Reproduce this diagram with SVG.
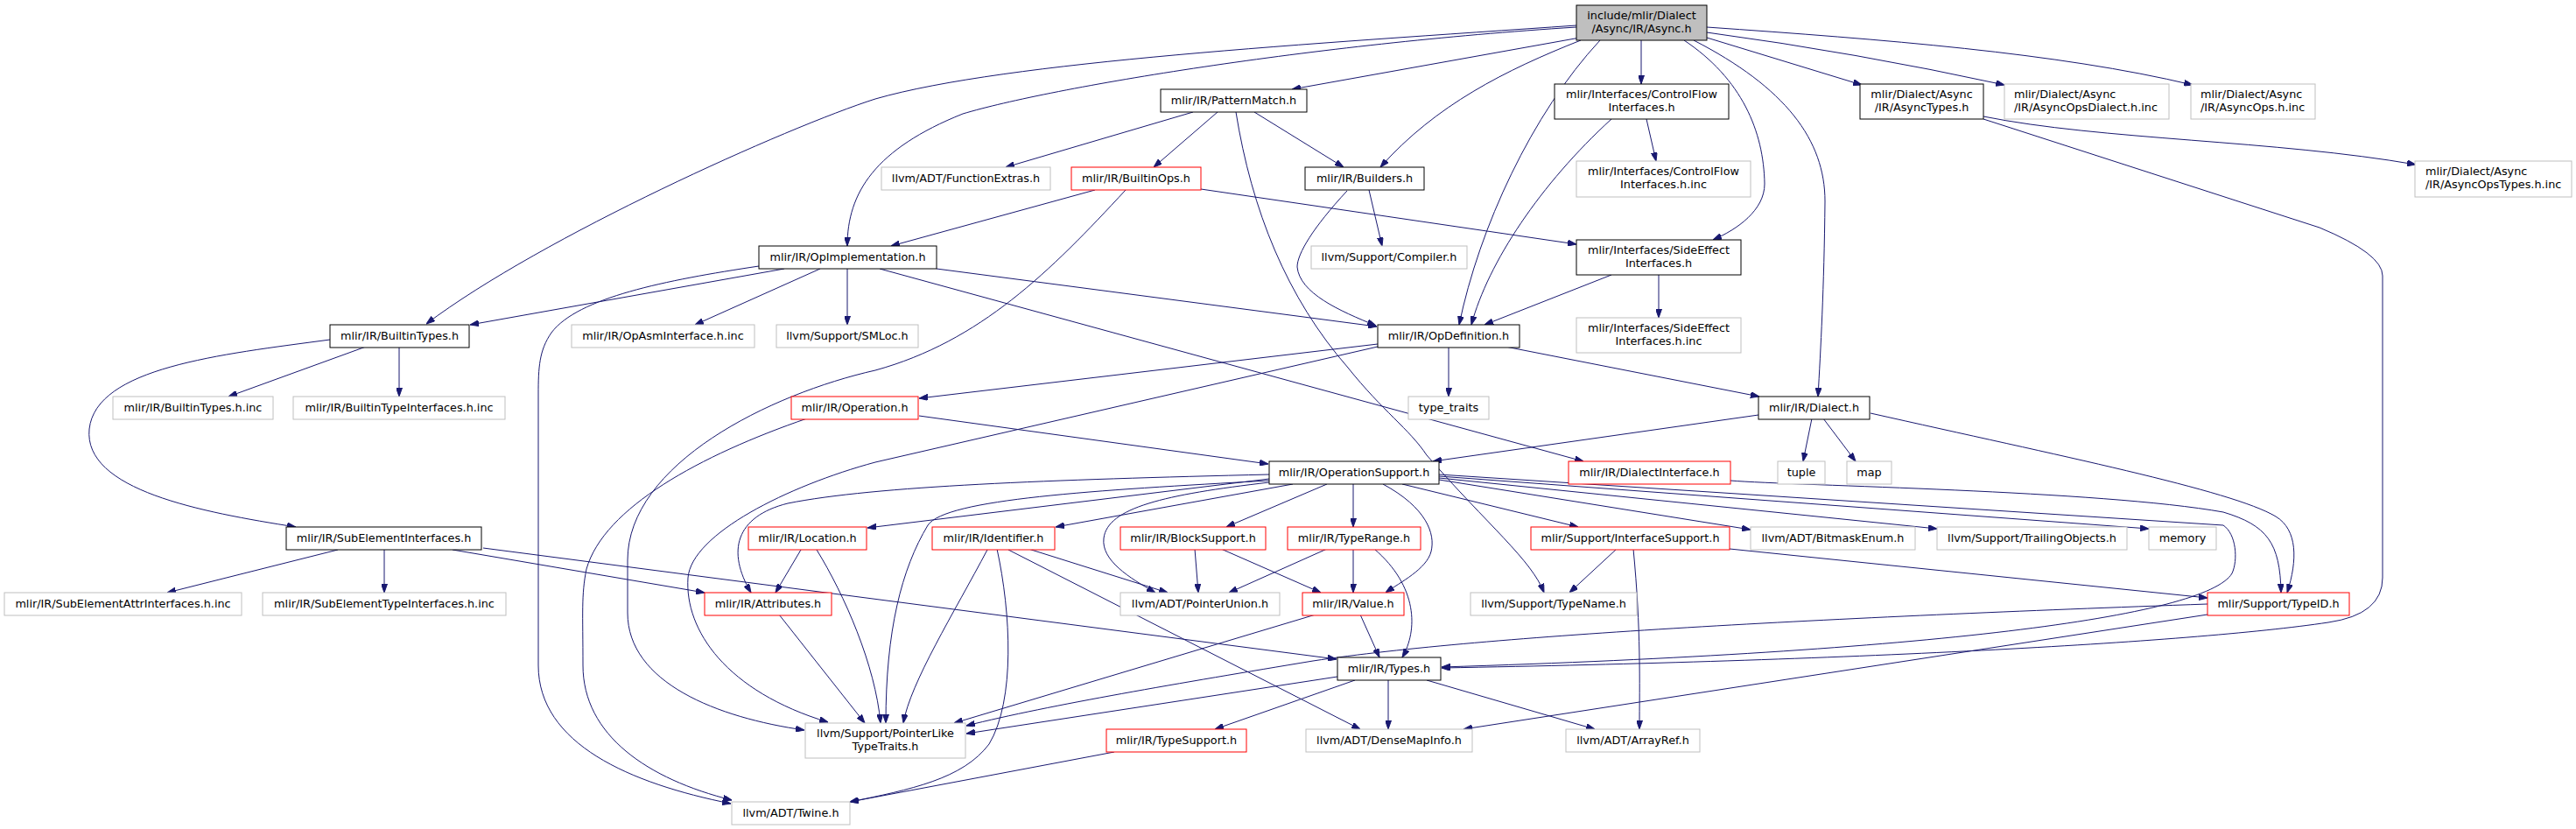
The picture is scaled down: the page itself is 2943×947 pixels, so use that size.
<svg xmlns="http://www.w3.org/2000/svg" width="2943" height="947" viewBox="0 0 2943 947">
<style>
text{font-family:"DejaVu Sans","Liberation Sans",sans-serif;font-size:12.8px;fill:#000;text-anchor:middle}
text.l{text-anchor:start}
rect{fill:#fff;stroke-width:1}
.k rect{stroke:#000}
.g rect{stroke:#bfbfbf}
.r rect{stroke:#ff0000}
.root rect{fill:#bfbfbf;stroke:#000}
#edges path{fill:none;stroke:#191970;stroke-width:1;marker-end:url(#a)}
</style>
<defs>
<marker id="a" viewBox="0 0 10 7" refX="10" refY="3.5" markerWidth="10" markerHeight="7" orient="auto" markerUnits="userSpaceOnUse"><path d="M0,0L10,3.5L0,7z" fill="#191970" stroke="#191970"/></marker>
</defs>
<rect x="0" y="0" width="2943" height="947" style="fill:#fff;stroke:none"/>
<g id="edges">
<path d="M1801,29 C1500,50 1150,70 1000,113 C900,145 620,270 487,370"/>
<path d="M1801,31 C1500,50 1200,100 1100,130 C1000,170 968,220 968,281"/>
<path d="M1805,43 L1476,102"/>
<path d="M1806,46 C1720,80 1640,120 1577,191"/>
<path d="M1828,46 C1750,130 1690,260 1667,371"/>
<path d="M1875,46 L1875,96"/>
<path d="M1924,46 C1990,90 2015,150 2016,210 C2016,240 1985,262 1957,274"/>
<path d="M1935,46 C2040,100 2085,160 2085,230 C2084,330 2080,400 2077,453"/>
<path d="M1950,43 L2127,97"/>
<path d="M1950,37 Q2120,60 2290,97"/>
<path d="M1950,31 C2150,45 2350,60 2505,97"/>
<path d="M2266,133 C2400,160 2600,160 2760,188"/>
<path d="M2266,136 L2650,260 Q2722,290 2722,315 L2722,660 Q2722,702 2660,711 C2500,735 2100,755 1647,763"/>
<path d="M1363,128 L1149,191"/>
<path d="M1391,128 L1318,191"/>
<path d="M1433,128 L1535,191"/>
<path d="M1412,128 C1430,240 1470,340 1540,420 C1580,470 1610,490 1630,520 C1700,600 1750,640 1764,677"/>
<path d="M1251,217 L1018,281"/>
<path d="M1372,216 L1801,279"/>
<path d="M1286,217 C1200,310 1120,390 1000,423 C880,450 717,530 717,640 L717,700 C717,780 820,820 919,834"/>
<path d="M896,307 L537,371"/>
<path d="M937,307 L794,371"/>
<path d="M968,307 L968,371"/>
<path d="M1070,307 L1573,373"/>
<path d="M1005,307 L1809,527"/>
<path d="M867,304 C760,320 660,340 630,380 C616,400 615,420 615,450 L615,760 C615,850 720,895 835,918"/>
<path d="M418,396 L261,453"/>
<path d="M456,396 L456,453"/>
<path d="M377,388 C250,405 110,420 102,490 C95,560 230,585 338,602"/>
<path d="M386,628 L191,677"/>
<path d="M439,628 L439,677"/>
<path d="M517,628 L805,677"/>
<path d="M552,626 L1527,753"/>
<path d="M1574,393 L1050,455"/>
<path d="M1574,396 L1000,528 C900,555 790,610 786,660 C782,720 830,790 946,825"/>
<path d="M1655,396 L1655,453"/>
<path d="M1720,396 L2010,453"/>
<path d="M1050,475 L1449,530"/>
<path d="M922,478 C800,520 690,580 670,650 C664,680 666,700 666,760 C666,840 740,890 836,914"/>
<path d="M2009,474 L1637,527"/>
<path d="M2070,478 L2060,527"/>
<path d="M2083,478 L2120,527"/>
<path d="M2137,472 C2350,520 2550,560 2600,590 C2625,605 2625,640 2613,677"/>
<path d="M1977,549 C2050,555 2400,560 2540,585 C2590,600 2605,620 2606,677"/>
<path d="M1450,547 L991,603"/>
<path d="M1450,542 C1200,548 1000,555 900,575 C840,590 830,630 858,677"/>
<path d="M1450,549 C1250,560 1080,570 1060,600 C1030,650 1012,720 1012,826"/>
<path d="M1450,551 C1330,565 1265,580 1261,615 C1258,640 1290,660 1320,677"/>
<path d="M1477,553 L1206,602"/>
<path d="M1516,553 L1401,602"/>
<path d="M1546,553 L1546,602"/>
<path d="M1580,553 C1630,580 1640,610 1635,630 C1630,650 1600,665 1583,677"/>
<path d="M1602,553 L1803,602"/>
<path d="M1644,548 L2000,605"/>
<path d="M1644,546 L2213,604"/>
<path d="M1644,544 L2455,604"/>
<path d="M1644,542 L2540,600 C2555,610 2557,640 2550,655 C2520,705 2200,745 1647,762"/>
<path d="M915,628 L886,677"/>
<path d="M933,628 C965,680 1000,760 1006,826"/>
<path d="M890,702 L988,826"/>
<path d="M1128,628 C1090,700 1040,780 1032,826"/>
<path d="M1139,627 C1155,700 1160,800 1130,850 C1100,890 1040,902 971,916"/>
<path d="M1152,628 L1554,833"/>
<path d="M1175,627 L1334,677"/>
<path d="M1365,627 L1369,677"/>
<path d="M1395,627 L1509,677"/>
<path d="M1516,627 L1404,677"/>
<path d="M1546,627 L1546,677"/>
<path d="M1570,627 C1620,670 1620,720 1602,751"/>
<path d="M1847,627 L1793,677"/>
<path d="M1866,627 C1875,720 1873,780 1873,833"/>
<path d="M1976,627 L2522,683"/>
<path d="M1503,702 L1090,826"/>
<path d="M1554,702 L1576,751"/>
<path d="M1528,773 L1104,838"/>
<path d="M1548,777 L1388,833"/>
<path d="M1586,777 L1586,833"/>
<path d="M1630,777 L1822,833"/>
<path d="M2522,690 C2100,705 1700,725 1500,755 C1350,780 1200,805 1104,829"/>
<path d="M2522,702 L1672,833"/>
<path d="M1273,859 L971,916"/>
<path d="M1564,217 L1579,281"/>
<path d="M1539,218 C1500,260 1482,290 1482,305 C1485,335 1530,355 1572,372"/>
<path d="M1881,136 L1892,184"/>
<path d="M1841,136 C1760,210 1700,300 1681,371"/>
<path d="M1895,314 L1895,363"/>
<path d="M1841,314 L1696,371"/>
</g>
<g id="root" class="root"><rect x="1801" y="6" width="149" height="40"/><text x="1875.5" y="21.5">include/mlir/Dialect</text><text x="1875.5" y="36.5">/Async/IR/Async.h</text></g>
<g id="patternmatch" class="k"><rect x="1326" y="102" width="167" height="26"/><text x="1409.5" y="119">mlir/IR/PatternMatch.h</text></g>
<g id="cfi" class="k"><rect x="1776" y="96" width="199" height="40"/><text x="1875.5" y="111.5">mlir/Interfaces/ControlFlow</text><text x="1875.5" y="126.5">Interfaces.h</text></g>
<g id="asynctypes" class="k"><rect x="2125" y="96" width="141" height="40"/><text x="2195.5" y="111.5">mlir/Dialect/Async</text><text x="2195.5" y="126.5">/IR/AsyncTypes.h</text></g>
<g id="asyncopsdialect" class="g"><rect x="2290" y="96" width="188" height="40"/><text class="l" x="2301" y="111.5">mlir/Dialect/Async</text><text class="l" x="2301" y="126.5">/IR/AsyncOpsDialect.h.inc</text></g>
<g id="asyncops" class="g"><rect x="2503" y="96" width="142" height="40"/><text class="l" x="2514" y="111.5">mlir/Dialect/Async</text><text class="l" x="2514" y="126.5">/IR/AsyncOps.h.inc</text></g>
<g id="functionextras" class="g"><rect x="1007" y="191" width="193" height="26"/><text x="1103.5" y="208">llvm/ADT/FunctionExtras.h</text></g>
<g id="builtinops" class="r"><rect x="1224" y="191" width="148" height="26"/><text x="1298" y="208">mlir/IR/BuiltinOps.h</text></g>
<g id="builders" class="k"><rect x="1491" y="191" width="136" height="26"/><text x="1559" y="208">mlir/IR/Builders.h</text></g>
<g id="cfiinc" class="g"><rect x="1801" y="184" width="199" height="41"/><text x="1900.5" y="199.5">mlir/Interfaces/ControlFlow</text><text x="1900.5" y="214.5">Interfaces.h.inc</text></g>
<g id="asyncopstypes" class="g"><rect x="2759" y="184" width="179" height="41"/><text class="l" x="2771" y="199.5">mlir/Dialect/Async</text><text class="l" x="2771" y="214.5">/IR/AsyncOpsTypes.h.inc</text></g>
<g id="opimpl" class="k"><rect x="867" y="281" width="203" height="26"/><text x="968.5" y="298">mlir/IR/OpImplementation.h</text></g>
<g id="compiler" class="g"><rect x="1498" y="281" width="178" height="26"/><text x="1587" y="298">llvm/Support/Compiler.h</text></g>
<g id="sideeffect" class="k"><rect x="1801" y="274" width="188" height="40"/><text x="1895" y="289.5">mlir/Interfaces/SideEffect</text><text x="1895" y="304.5">Interfaces.h</text></g>
<g id="sideeffectinc" class="g"><rect x="1801" y="363" width="188" height="40"/><text x="1895" y="378.5">mlir/Interfaces/SideEffect</text><text x="1895" y="393.5">Interfaces.h.inc</text></g>
<g id="builtintypes" class="k"><rect x="377" y="371" width="159" height="26"/><text x="456.5" y="388">mlir/IR/BuiltinTypes.h</text></g>
<g id="opasm" class="g"><rect x="653" y="371" width="209" height="26"/><text x="757.5" y="388">mlir/IR/OpAsmInterface.h.inc</text></g>
<g id="smloc" class="g"><rect x="887" y="371" width="162" height="26"/><text x="968" y="388">llvm/Support/SMLoc.h</text></g>
<g id="opdef" class="k"><rect x="1574" y="371" width="162" height="26"/><text x="1655" y="388">mlir/IR/OpDefinition.h</text></g>
<g id="builtintypesinc" class="g"><rect x="129" y="453" width="183" height="26"/><text x="220.5" y="470">mlir/IR/BuiltinTypes.h.inc</text></g>
<g id="builtintypeifinc" class="g"><rect x="335" y="453" width="242" height="26"/><text x="456" y="470">mlir/IR/BuiltinTypeInterfaces.h.inc</text></g>
<g id="operation" class="r"><rect x="904" y="453" width="145" height="26"/><text x="976.5" y="470">mlir/IR/Operation.h</text></g>
<g id="typetraits" class="g"><rect x="1609" y="453" width="92" height="26"/><text x="1655" y="470">type_traits</text></g>
<g id="dialect" class="k"><rect x="2009" y="453" width="127" height="26"/><text x="2072.5" y="470">mlir/IR/Dialect.h</text></g>
<g id="opsupport" class="k"><rect x="1450" y="527" width="194" height="26"/><text x="1547" y="544">mlir/IR/OperationSupport.h</text></g>
<g id="dialectif" class="r"><rect x="1792" y="527" width="185" height="26"/><text x="1884.5" y="544">mlir/IR/DialectInterface.h</text></g>
<g id="tuple" class="g"><rect x="2031" y="527" width="54" height="26"/><text x="2058" y="544">tuple</text></g>
<g id="map" class="g"><rect x="2110" y="527" width="51" height="26"/><text x="2135.5" y="544">map</text></g>
<g id="subelem" class="k"><rect x="327" y="602" width="223" height="26"/><text x="438.5" y="619">mlir/IR/SubElementInterfaces.h</text></g>
<g id="location" class="r"><rect x="855" y="602" width="135" height="26"/><text x="922.5" y="619">mlir/IR/Location.h</text></g>
<g id="identifier" class="r"><rect x="1065" y="602" width="140" height="26"/><text x="1135" y="619">mlir/IR/Identifier.h</text></g>
<g id="blocksupport" class="r"><rect x="1280" y="602" width="166" height="26"/><text x="1363" y="619">mlir/IR/BlockSupport.h</text></g>
<g id="typerange" class="r"><rect x="1471" y="602" width="152" height="26"/><text x="1547" y="619">mlir/IR/TypeRange.h</text></g>
<g id="ifsupport" class="r"><rect x="1749" y="602" width="227" height="26"/><text x="1862.5" y="619">mlir/Support/InterfaceSupport.h</text></g>
<g id="bitmask" class="g"><rect x="2000" y="602" width="188" height="26"/><text x="2094" y="619">llvm/ADT/BitmaskEnum.h</text></g>
<g id="trailing" class="g"><rect x="2213" y="602" width="217" height="26"/><text x="2321.5" y="619">llvm/Support/TrailingObjects.h</text></g>
<g id="memory" class="g"><rect x="2455" y="602" width="77" height="26"/><text x="2493.5" y="619">memory</text></g>
<g id="subattrinc" class="g"><rect x="5" y="677" width="271" height="26"/><text x="140.5" y="694">mlir/IR/SubElementAttrInterfaces.h.inc</text></g>
<g id="subtypeinc" class="g"><rect x="300" y="677" width="278" height="26"/><text x="439" y="694">mlir/IR/SubElementTypeInterfaces.h.inc</text></g>
<g id="attributes" class="r"><rect x="805" y="677" width="145" height="26"/><text x="877.5" y="694">mlir/IR/Attributes.h</text></g>
<g id="pointerunion" class="g"><rect x="1280" y="677" width="182" height="26"/><text x="1371" y="694">llvm/ADT/PointerUnion.h</text></g>
<g id="value" class="r"><rect x="1488" y="677" width="116" height="26"/><text x="1546" y="694">mlir/IR/Value.h</text></g>
<g id="typename" class="g"><rect x="1680" y="677" width="190" height="26"/><text x="1775" y="694">llvm/Support/TypeName.h</text></g>
<g id="typeid" class="r"><rect x="2522" y="677" width="162" height="26"/><text x="2603" y="694">mlir/Support/TypeID.h</text></g>
<g id="types" class="k"><rect x="1528" y="751" width="118" height="26"/><text x="1587" y="768">mlir/IR/Types.h</text></g>
<g id="pointerlike" class="g"><rect x="920" y="826" width="183" height="40"/><text x="1011.5" y="841.5">llvm/Support/PointerLike</text><text x="1011.5" y="856.5">TypeTraits.h</text></g>
<g id="typesupport" class="r"><rect x="1264" y="833" width="160" height="26"/><text x="1344" y="850">mlir/IR/TypeSupport.h</text></g>
<g id="densemap" class="g"><rect x="1492" y="833" width="190" height="26"/><text x="1587" y="850">llvm/ADT/DenseMapInfo.h</text></g>
<g id="arrayref" class="g"><rect x="1789" y="833" width="153" height="26"/><text x="1865.5" y="850">llvm/ADT/ArrayRef.h</text></g>
<g id="twine" class="g"><rect x="836" y="916" width="135" height="26"/><text x="903.5" y="933">llvm/ADT/Twine.h</text></g>
</svg>
